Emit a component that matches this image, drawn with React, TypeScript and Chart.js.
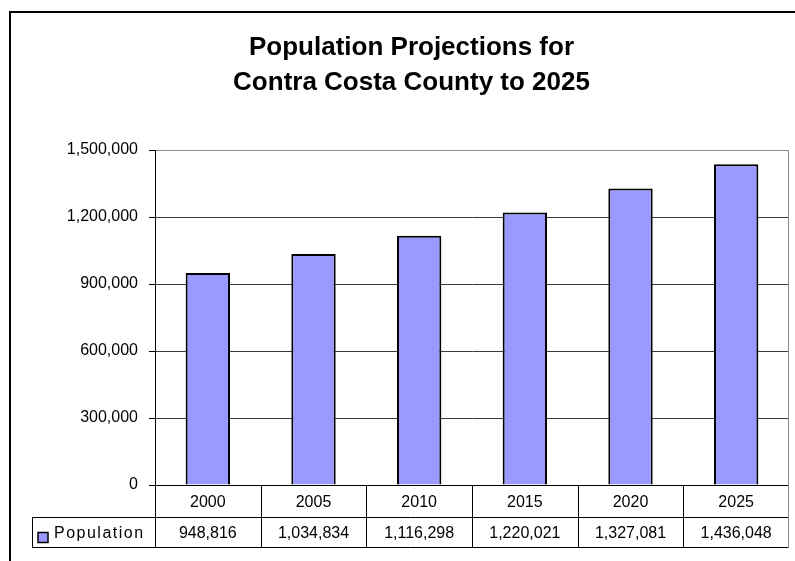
import { useEffect, useRef } from "react";
import { Chart, registerables } from "chart.js";

Chart.register(...registerables);

const categories = ["2000", "2005", "2010", "2015", "2020", "2025"];
const population = [948816, 1034834, 1116298, 1220021, 1327081, 1436048];
const seriesName = "Population";
const titleLines = ["Population Projections for", "Contra Costa County to 2025"];
const yMin = 0;
const yMax = 1500000;
const yStep = 300000;

const FONT = '"Liberation Sans", Arial, Helvetica, sans-serif';
const BAR_COLOR = "#9999FF";
const fmt = (v: number) => v.toLocaleString("en-US");

const framePlugin = {
  id: "excelFrame",
  beforeDraw(chart: any) {
    const ctx = chart.ctx as CanvasRenderingContext2D;
    ctx.save();
    ctx.fillStyle = "#ffffff";
    ctx.fillRect(0, 0, chart.width, chart.height);
    // outer chart frame (cropped at right/bottom)
    ctx.strokeStyle = "#000";
    ctx.lineWidth = 2;
    ctx.beginPath();
    ctx.moveTo(10, chart.height + 5);
    ctx.lineTo(10, 12);
    ctx.lineTo(chart.width + 5, 12);
    ctx.stroke();
    // title
    ctx.fillStyle = "#000";
    ctx.font = `bold 26px ${FONT}`;
    ctx.textAlign = "center";
    ctx.textBaseline = "alphabetic";
    ctx.fillText(titleLines[0], 411.5, 55);
    ctx.fillText(titleLines[1], 411.5, 90);
    ctx.restore();
  },
  afterDraw(chart: any) {
    const ctx = chart.ctx as CanvasRenderingContext2D;
    const { left, right, top, bottom } = chart.chartArea;
    const xs = chart.scales.x;
    const n = categories.length;
    const bounds: number[] = [Math.round(left) + 0.5];
    for (let i = 1; i < n; i++) {
      bounds.push(Math.round((xs.getPixelForValue(i - 1) + xs.getPixelForValue(i)) / 2) + 0.5);
    }
    const rightX = Math.round(right) - 0.5;
    bounds.push(rightX);
    const r0 = Math.round(bottom) + 0.5;
    const r1 = r0 + 32;
    const r2 = r0 + 62;
    const legendLeft = 32.5;

    ctx.save();
    ctx.lineWidth = 1;
    ctx.strokeStyle = "#000";
    ctx.beginPath();
    // horizontal rows
    ctx.moveTo(legendLeft, r1);
    ctx.lineTo(rightX, r1);
    ctx.moveTo(legendLeft, r2);
    ctx.lineTo(rightX, r2);
    // legend cell left
    ctx.moveTo(legendLeft, r1);
    ctx.lineTo(legendLeft, r2);
    // column separators
    for (let i = 0; i < bounds.length - 1; i++) {
      ctx.moveTo(bounds[i], r0);
      ctx.lineTo(bounds[i], r2);
    }
    ctx.stroke();

    // right plot border (gray)
    ctx.strokeStyle = "#8c8c8c";
    ctx.beginPath();
    ctx.moveTo(rightX, Math.round(top) + 0.5);
    ctx.lineTo(rightX, r2);
    ctx.stroke();

    // texts
    ctx.fillStyle = "#000";
    ctx.font = `16px ${FONT}`;
    ctx.textAlign = "center";
    ctx.textBaseline = "middle";
    for (let i = 0; i < n; i++) {
      const cx = xs.getPixelForValue(i);
      ctx.fillText(categories[i], cx, (r0 + r1) / 2 + 1);
      ctx.fillText(fmt(population[i]), cx, (r1 + r2) / 2 + 1);
    }

    // legend key + name
    ctx.fillStyle = BAR_COLOR;
    ctx.fillRect(38, 532.5, 10, 10);
    ctx.strokeStyle = "#000";
    ctx.lineWidth = 1.5;
    ctx.strokeRect(38, 532.5, 10, 10);
    ctx.fillStyle = "#000";
    ctx.textAlign = "left";
    (ctx as any).letterSpacing = "1.5px";
    ctx.fillText(seriesName, 54, (r1 + r2) / 2 + 1);
    (ctx as any).letterSpacing = "0px";
    ctx.restore();
  },
};

export default function App() {
  const canvasRef = useRef<HTMLCanvasElement | null>(null);

  useEffect(() => {
    if (!canvasRef.current) return;
    const chart = new Chart(canvasRef.current, {
      type: "bar",
      data: {
        labels: categories,
        datasets: [
          {
            label: seriesName,
            data: population,
            backgroundColor: BAR_COLOR,
            borderColor: "#000",
            borderWidth: 2,
            barPercentage: 0.42,
            categoryPercentage: 1,
          },
        ],
      },
      options: {
        responsive: false,
        animation: false,
        events: [],
        layout: { padding: { left: 0, top: 150, right: 6, bottom: 76 } },
        plugins: {
          legend: { display: false },
          title: { display: false },
          tooltip: { enabled: false },
        },
        scales: {
          x: { display: false },
          y: {
            min: yMin,
            max: yMax,
            afterFit: (s: any) => {
              s.width = 155;
            },
            ticks: {
              stepSize: yStep,
              color: "#000",
              padding: 11,
              font: { family: FONT, size: 16 },
              callback: (v: any) => fmt(Number(v)),
            },
            grid: {
              color: (c: any) =>
                c.tick && c.tick.value === yMax ? "#8c8c8c" : c.tick && c.tick.value === 0 ? "#000" : "#3a3a3a",
              tickColor: "#000",
              tickLength: 6,
              lineWidth: 1,
            },
            border: { display: true, color: "#000", width: 1 },
          },
        },
      },
      plugins: [framePlugin],
    });
    return () => chart.destroy();
  }, []);

  return (
    <div style={{ position: "absolute", left: 0, top: 0, width: 795, height: 561 }}>
      <canvas ref={canvasRef} width={795} height={561} />
    </div>
  );
}
